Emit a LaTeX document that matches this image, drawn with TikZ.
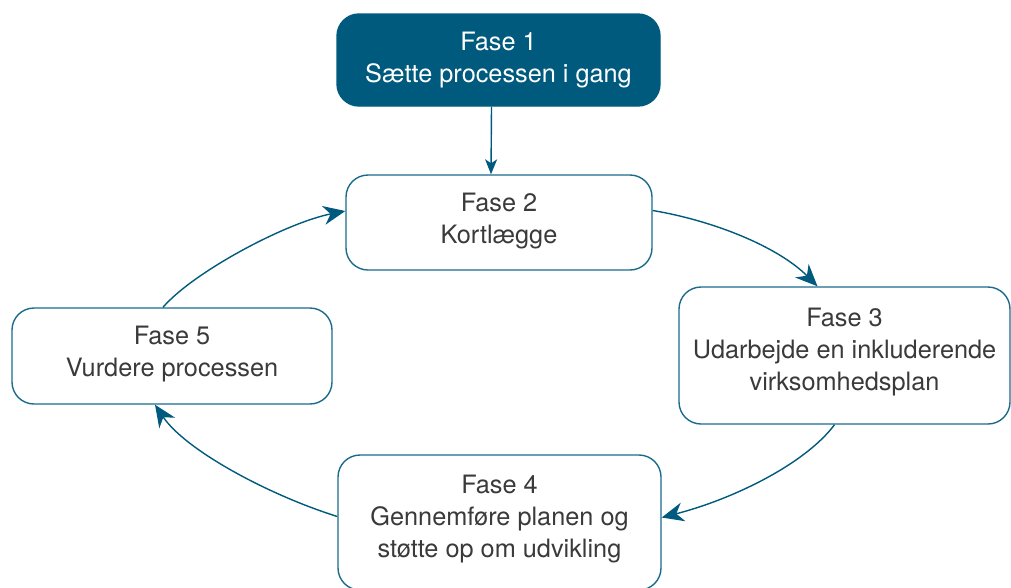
\documentclass[tikz,border=0pt]{standalone}
\usepackage{fontspec}
\setmainfont{TeX Gyre Heros}
\usetikzlibrary{arrows.meta}
\definecolor{phaseblue}{HTML}{005A7E}
\definecolor{phaseline}{HTML}{1B6B8C}
\definecolor{phasetext}{HTML}{3A3A3A}
% extra depth below the last line, lifting the text block a little
\newcommand{\liftby}[1]{\rule[-#1]{0pt}{0pt}}
\begin{document}
\begin{tikzpicture}[x=1pt,y=-1pt,
  phasebox/.style={draw=phaseline, line width=1.4pt, rounded corners=22pt,
    fill=white, text=phasetext, align=center, inner sep=0pt,
    font=\fontsize{25.3}{32}\selectfont},
  startbox/.style={phasebox, fill=phaseblue, draw=phaseblue, text=white},
  flow/.style={draw=phaseblue, line width=1.4pt,
    -{Stealth[length=22pt,width=19pt,inset=7pt]}},
  flowsmall/.style={draw=phaseblue, line width=1.4pt,
    -{Stealth[length=15pt,width=12pt,inset=4pt]}}]
\useasboundingbox (0,0) rectangle (1011,587);

\node[startbox, minimum width=323pt, minimum height=92pt] (f1) at (498.5,60)
  {Fase 1\\Sætte processen i gang};
\node[phasebox, minimum width=306pt, minimum height=95pt] (f2) at (499,222.5)
  {Fase 2\\Kortlægge\liftby{9pt}};
\node[phasebox, minimum width=331pt, minimum height=137pt] (f3) at (844.5,355.5)
  {Fase 3\\Udarbejde en inkluderende\\virksomhedsplan\liftby{13pt}};
\node[phasebox, minimum width=323pt, minimum height=135pt] (f4) at (499.5,522.5)
  {Fase 4\\Gennemføre planen og\\støtte op om udvikling\liftby{13pt}};
\node[phasebox, minimum width=320pt, minimum height=96pt] (f5) at (172,356)
  {Fase 5\\Vurdere processen\liftby{9pt}};

\draw[flowsmall] ([xshift=-7pt]f1.south) -- ([xshift=-8pt]f2.north);
\draw[flow] ([yshift=12pt]f2.east) .. controls +(60,10) and +(-40,-40) .. ([xshift=-27pt]f3.north);
\draw[flow] ([xshift=-10pt]f3.south) .. controls +(-30,40) and +(70,-18) .. ([yshift=5pt]f4.east);
\draw[flow] ([yshift=6pt]f4.west) .. controls +(-70,-22) and +(30,45) .. ([xshift=-17pt]f5.south);
\draw[flow] ([xshift=-9pt]f5.north) .. controls +(30,-35) and +(-60,12) .. ([yshift=11.5pt]f2.west);
\end{tikzpicture}
\end{document}
